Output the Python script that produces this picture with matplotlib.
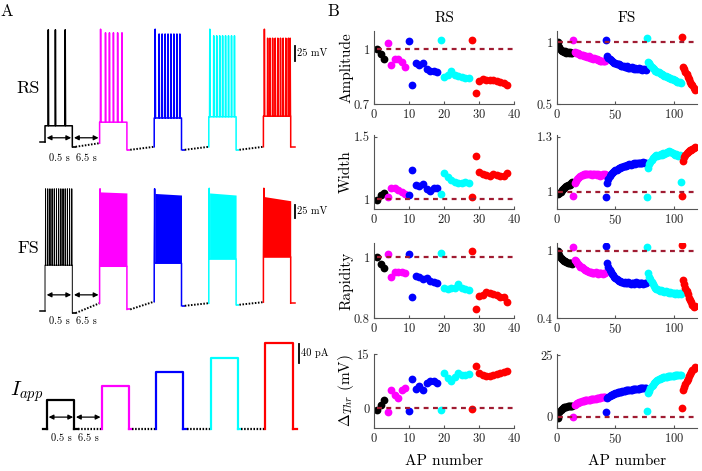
import numpy as np
import matplotlib.pyplot as plt

plt.rcParams['font.family'] = ['cmr10', 'DejaVu Serif']
plt.rcParams['mathtext.fontset'] = 'cm'
plt.rcParams['axes.formatter.use_mathtext'] = True

W, H = 702, 471
fig = plt.figure(figsize=(W / 100, H / 100), dpi=100)


def px_axes(l, t, r, b):
    # axes placed by pixel box (left, top, right, bottom)
    return fig.add_axes([l / W, 1 - b / H, (r - l) / W, (b - t) / H])


colors = ['k', '#ff00ff', '#0000ff', '#00ffff', '#ff0000']
ref_color = '#a01c32'

# ---------------- panel A data ----------------
step_len = 0.5            # 0.5 s step, the 6.5 s gap is drawn compressed
iapp_pA = [60, 90, 120, 150, 180]

rs_pre = [-70, -72, -78, -78, -78]
rs_post = [-78, -83, -83, -83, -78]
rs_trough = [-43, -37, -30, -28, -27]
rs_first_peak = [117, 118, 118, 118, 118]
rs_peak = [117, 112, 110, 107, 103]
rs_spikes = [
    [0.06, 0.19, 0.37],
    [0.018, 0.108, 0.18, 0.253, 0.33, 0.41],
    [0.018, 0.09, 0.145, 0.2, 0.253, 0.307, 0.361, 0.416, 0.47],
    [0.018, 0.09, 0.145, 0.2, 0.253, 0.307, 0.361, 0.416, 0.47],
    [0.018, 0.078, 0.12, 0.169, 0.217, 0.265, 0.313, 0.361, 0.41, 0.458, 0.49],
]

fs_pre = [-70, -55, -52, -55, -53]
fs_post = [-74, -67, -60, -58, -55]
fs_trough = [18, 16, 22, 30, 34]
fs_first_peak = [165, 165, 165, 166, 166]
fs_top_start = [165, 159, 156, 157, 150]
fs_top_end = [165, 157, 153, 153, 142]
fs_black_spikes = [0.01, 0.05, 0.09, 0.13, 0.17, 0.21, 0.25, 0.29, 0.33,
                   0.37, 0.41, 0.45, 0.49]

# ---------------- panel B data ----------------
rs_counts = [3, 6, 9, 9, 11]
fs_counts = [13, 28, 35, 30, 12]

rs_amplitude = [
    [1.0, 0.975, 0.945],
    [1.034, 0.913, 0.944, 0.949, 0.93, 0.903],
    [1.044, 0.803, 0.922, 0.915, 0.922, 0.894, 0.88, 0.88, 0.877],
    [1.053, 0.849, 0.86, 0.88, 0.86, 0.851, 0.849, 0.845, 0.84],
    [1.049, 0.761, 0.825, 0.836, 0.834, 0.834, 0.83, 0.825, 0.82, 0.815, 0.803],
]
rs_width = [
    [0.99, 1.03, 1.05],
    [1.02, 1.09, 1.086, 1.07, 1.06, 1.04],
    [1.03, 1.234, 1.113, 1.108, 1.118, 1.078, 1.067, 1.086, 1.09],
    [1.04, 1.207, 1.175, 1.153, 1.14, 1.132, 1.132, 1.134, 1.132],
    [1.02, 1.347, 1.22, 1.2, 1.19, 1.185, 1.2, 1.19, 1.185, 1.185, 1.207],
]
rs_rapidity = [
    [1.0, 0.977, 0.963],
    [1.01, 0.933, 0.952, 0.95, 0.95, 0.948],
    [1.01, 0.868, 0.939, 0.933, 0.928, 0.931, 0.922, 0.919, 0.915],
    [1.012, 0.897, 0.895, 0.897, 0.9, 0.911, 0.897, 0.895, 0.892],
    [1.02, 0.83, 0.873, 0.875, 0.884, 0.882, 0.879, 0.875, 0.868, 0.87, 0.854],
]
rs_dthr = [
    [-0.5, 0.9, 2.3],
    [-1.2, 5.1, 3.7, 2.8, 5.1, 5.5],
    [-0.7, 8.0, 5.2, 6.0, 5.1, 7.1, 7.4, 7.4, 6.9],
    [-0.5, 9.7, 8.3, 7.4, 8.7, 9.7, 9.2, 9.2, 9.5],
    [-0.2, 11.7, 9.7, 9.2, 8.9, 8.9, 9.2, 9.5, 9.7, 10.1, 10.4],
]

fs_amplitude = [
    [1.0, 0.96, 0.94, 0.93, 0.925, 0.92, 0.925, 0.915, 0.92, 0.915, 0.92, 0.91, 0.915],
    [1.02, 0.92, 0.915, 0.91, 0.915, 0.905, 0.9, 0.9, 0.895, 0.89, 0.89, 0.885, 0.88,
     0.885, 0.875, 0.87, 0.87, 0.865, 0.87, 0.86, 0.86, 0.855, 0.855, 0.85, 0.85,
     0.845, 0.85, 0.845],
    [1.02, 0.885, 0.87, 0.86, 0.855, 0.845, 0.84, 0.835, 0.83, 0.825, 0.82, 0.82,
     0.815, 0.81, 0.81, 0.805, 0.8, 0.8, 0.805, 0.795, 0.79, 0.79, 0.8, 0.795, 0.785,
     0.79, 0.785, 0.78, 0.79, 0.785, 0.78, 0.775, 0.785, 0.78, 0.775],
    [1.03, 0.84, 0.83, 0.815, 0.8, 0.79, 0.78, 0.77, 0.765, 0.76, 0.755, 0.75, 0.745,
     0.74, 0.735, 0.73, 0.725, 0.72, 0.715, 0.71, 0.71, 0.705, 0.7, 0.695, 0.69,
     0.685, 0.68, 0.68, 0.675, 0.67],
    [1.04, 0.8, 0.78, 0.76, 0.74, 0.72, 0.7, 0.68, 0.665, 0.65, 0.63, 0.61],
]
fs_width = [
    [0.99, 0.995, 1.0, 1.01, 1.015, 1.02, 1.025, 1.03, 1.035, 1.04, 1.04, 1.05, 1.055],
    [0.98, 1.05, 1.06, 1.07, 1.075, 1.08, 1.085, 1.09, 1.09, 1.095, 1.095, 1.1, 1.095,
     1.1, 1.1, 1.095, 1.09, 1.095, 1.1, 1.095, 1.09, 1.095, 1.09, 1.085, 1.09, 1.095,
     1.09, 1.095],
    [0.975, 1.05, 1.07, 1.085, 1.1, 1.105, 1.11, 1.115, 1.12, 1.12, 1.125, 1.13, 1.13,
     1.135, 1.135, 1.14, 1.14, 1.14, 1.145, 1.145, 1.15, 1.145, 1.15, 1.15, 1.155,
     1.15, 1.155, 1.16, 1.155, 1.16, 1.155, 1.16, 1.165, 1.16, 1.155],
    [0.975, 1.13, 1.15, 1.165, 1.175, 1.185, 1.19, 1.195, 1.2, 1.195, 1.2, 1.2, 1.205,
     1.2, 1.21, 1.205, 1.21, 1.215, 1.22, 1.225, 1.215, 1.22, 1.21, 1.205, 1.2, 1.205,
     1.2, 1.195, 1.2, 1.055],
    [0.98, 1.17, 1.19, 1.2, 1.21, 1.22, 1.225, 1.23, 1.23, 1.235, 1.24, 1.245],
]
fs_rapidity = [
    [1.0, 0.96, 0.94, 0.93, 0.92, 0.91, 0.905, 0.9, 0.895, 0.89, 0.895, 0.89, 0.885],
    [1.03, 0.92, 0.905, 0.89, 0.88, 0.87, 0.86, 0.855, 0.845, 0.84, 0.83, 0.825, 0.82,
     0.815, 0.81, 0.81, 0.805, 0.8, 0.8, 0.81, 0.8, 0.795, 0.8, 0.805, 0.8, 0.795,
     0.8, 0.805],
    [1.04, 0.89, 0.86, 0.83, 0.81, 0.795, 0.78, 0.77, 0.76, 0.75, 0.74, 0.735, 0.73,
     0.725, 0.72, 0.715, 0.72, 0.715, 0.71, 0.72, 0.71, 0.705, 0.715, 0.71, 0.705,
     0.71, 0.72, 0.715, 0.705, 0.71, 0.715, 0.71, 0.705, 0.71, 0.715],
    [1.03, 0.8, 0.77, 0.745, 0.72, 0.7, 0.685, 0.67, 0.66, 0.655, 0.65, 0.645, 0.65,
     0.64, 0.645, 0.635, 0.64, 0.63, 0.635, 0.625, 0.63, 0.62, 0.625, 0.62, 0.615,
     0.625, 0.62, 0.615, 0.62, 0.615],
    [1.05, 0.74, 0.7, 0.67, 0.64, 0.61, 0.58, 0.56, 0.54, 0.52, 0.5, 0.51],
]
fs_dthr = [
    [-0.4, 2.0, 2.8, 3.2, 3.5, 3.8, 4.0, 4.0, 4.2, 4.2, 4.3, 4.5, 4.4],
    [0.0, 4.8, 5.2, 5.5, 5.8, 6.0, 6.2, 6.3, 6.5, 6.6, 6.7, 6.8, 6.9, 7.0, 7.0, 7.1,
     7.2, 7.3, 7.3, 7.4, 7.5, 7.6, 7.7, 7.8, 7.9, 8.0, 8.1, 8.2],
    [1.9, 7.5, 8.0, 8.4, 8.7, 9.0, 9.2, 9.4, 9.6, 9.8, 9.9, 10.0, 10.1, 10.2, 10.4,
     10.5, 10.6, 10.7, 10.8, 10.8, 10.9, 11.0, 11.0, 11.1, 11.2, 11.2, 11.3, 11.4,
     11.4, 11.5, 11.5, 11.6, 11.6, 11.7, 11.6],
    [2.5, 9.5, 10.5, 11.5, 12.3, 13.0, 13.6, 14.1, 14.6, 15.0, 15.3, 15.5, 15.7, 15.9,
     16.0, 16.1, 16.2, 16.3, 16.4, 16.5, 16.5, 16.6, 16.7, 16.7, 16.8, 16.9, 16.9,
     17.0, 17.0, 17.1],
    [3.6, 11.0, 12.2, 13.4, 14.5, 15.5, 16.4, 17.2, 18.0, 18.8, 19.5, 20.0],
]

metric_labels = ['Amplitude', 'Width', 'Rapidity', r'$\Delta_{Thr}\ \mathrm{(mV)}$']
ref_level = [1, 1, 1, 0]
rs_ylim = [(0.7, 1.1), (0.92, 1.515), (0.8, 1.046), (-5.5, 15)]
fs_ylim = [(0.5, 1.09), (0.907, 1.31), (0.4, 1.07), (-4.5, 25.4)]
rs_yticks = [[0.7, 1], [1, 1.5], [0.8, 1], [0, 15]]
fs_yticks = [[0.5, 1], [1, 1.3], [0.4, 1], [0, 25]]


# ---------------- panel A: traces ----------------
def gap(ax, x0, x1, y0, y1, c):
    ax.plot([x0, x0 + 0.06], [y0, y0], color=c, lw=1.2, solid_capstyle='butt')
    ax.plot([x0 + 0.06, x1], [y0, y1], color='k', lw=1.4, ls=(0, (0.8, 0.8)))


def arrows(ax, y_arrow, y_text):
    for a, b, lab in [(0.03, 0.48, '0.5 s'), (0.53, 0.98, '6.5 s')]:
        ax.annotate('', xy=(b, y_arrow), xytext=(a, y_arrow),
                    arrowprops=dict(arrowstyle='<|-|>', color='k', lw=0.9,
                                    mutation_scale=7, shrinkA=0, shrinkB=0))
        ax.text((a + b) / 2, y_text, lab, ha='center', va='center', fontsize=7.5)


def scalebar(ax, x, y0, y1, lab):
    ax.plot([x, x], [y0, y1], color='k', lw=1.3)
    ax.text(x + 0.04, (y0 + y1) / 2, lab, ha='left', va='center', fontsize=7.5)


# RS voltage
ax = px_axes(30, 20, 340, 170)
ax.set_xlim(-0.275, 5.403)
ax.set_ylim(-116.7, 133.3)
ax.axis('off')
ax.plot([-0.09, 0], [rs_pre[0], rs_pre[0]], color='k', lw=1.1)
for i in range(5):
    o = float(i)
    xs, ys = [o, o], [rs_pre[i], rs_trough[i]]
    for j, t in enumerate(rs_spikes[i]):
        p = rs_first_peak[i] if j == 0 else rs_peak[i]
        xs += [o + t - 0.004, o + t, o + t + 0.006]
        ys += [rs_trough[i], p, rs_trough[i]]
    xs += [o + step_len, o + step_len]
    ys += [rs_trough[i], rs_post[i]]
    ax.plot(xs, ys, color=colors[i], lw=1.1)
    if i < 4:
        gap(ax, o + step_len, o + 1, rs_post[i], rs_pre[i + 1], colors[i])
    else:
        ax.plot([o + step_len, o + step_len + 0.08], [rs_post[i]] * 2, color=colors[i], lw=1.1)
arrows(ax, -63, -96.7)
scalebar(ax, 4.58, 65, 90, '25 mV')

# FS voltage
ax = px_axes(30, 175, 340, 335)
ax.set_xlim(-0.275, 5.403)
ax.set_ylim(-116.2, 191.5)
ax.axis('off')
ax.plot([-0.09, 0], [fs_pre[0], fs_pre[0]], color='k', lw=1.1)
for i in range(5):
    o = float(i)
    if i == 0:
        xs, ys = [o, o], [fs_pre[0], fs_trough[0]]
        for t in fs_black_spikes:
            xs += [o + t - 0.003, o + t, o + t + 0.004]
            ys += [fs_trough[0], fs_first_peak[0], fs_trough[0]]
        lw = 0.7
    else:
        xs = [o, o, o + 0.008, o + 0.014]
        ys = [fs_pre[i], fs_trough[i], fs_first_peak[i], fs_trough[i]]
        ax.fill_between([o + 0.014, o + step_len], [fs_trough[i]] * 2,
                        [fs_top_start[i], fs_top_end[i]], color=colors[i], lw=0)
        lw = 1.1
    xs += [o + step_len, o + step_len]
    ys += [fs_trough[i], fs_post[i]]
    ax.plot(xs, ys, color=colors[i], lw=lw)
    if i < 4:
        gap(ax, o + step_len, o + 1, fs_post[i], fs_pre[i + 1], colors[i])
    else:
        ax.plot([o + step_len, o + step_len + 0.08], [fs_post[i]] * 2, color=colors[i], lw=1.1)
arrows(ax, -39, -89)
scalebar(ax, 4.58, 109, 134, '25 mV')

# applied current
ax = px_axes(30, 330, 340, 460)
ax.set_xlim(-0.311, 5.366)
ax.set_ylim(-65.3, 208.4)
ax.axis('off')
ax.plot([-0.08, 0], [0, 0], color='k', lw=1.6)
for i, amp in enumerate(iapp_pA):
    o = float(i)
    ax.plot([o, o, o + step_len, o + step_len], [0, amp, amp, 0], color=colors[i], lw=1.6)
    if i < 4:
        ax.plot([o + step_len, o + step_len + 0.06], [0, 0], color=colors[i], lw=1.6)
        ax.plot([o + step_len + 0.06, o + 1], [0, 0], color='k', lw=1.6, ls=(0, (0.7, 0.7)))
    else:
        ax.plot([o + step_len, o + step_len + 0.08], [0, 0], color=colors[i], lw=1.6)
arrows(ax, 25, -19)
scalebar(ax, 4.62, 139, 179, '40 pA')

fig.text(28 / W, 1 - 88 / H, 'RS', ha='center', va='center', fontsize=13)
fig.text(28 / W, 1 - 248 / H, 'FS', ha='center', va='center', fontsize=13)
fig.text(27 / W, 1 - 392 / H, r'$I_{app}$', ha='center', va='center', fontsize=15)
fig.text(7 / W, 1 - 11 / H, 'A', ha='center', va='center', fontsize=12)
fig.text(333 / W, 1 - 11 / H, 'B', ha='center', va='center', fontsize=12)

# ---------------- panel B: spike features ----------------
rows_px = [(31, 104), (135, 209), (243, 318), (354, 428)]
cols = [
    (374, 514, rs_counts, [rs_amplitude, rs_width, rs_rapidity, rs_dthr],
     rs_ylim, rs_yticks, 40, [0, 10, 20, 30, 40], 'RS'),
    (557, 697, fs_counts, [fs_amplitude, fs_width, fs_rapidity, fs_dthr],
     fs_ylim, fs_yticks, 120, [0, 50, 100], 'FS'),
]

for left, right, counts, metrics, ylims, yticks, xmax, xticks, title in cols:
    starts = np.cumsum([0] + counts[:-1]) + 1
    for r, (top, bottom) in enumerate(rows_px):
        ax = px_axes(left, top, right, bottom)
        for k in range(5):
            vals = metrics[r][k]
            x = np.arange(starts[k], starts[k] + len(vals))
            ax.plot(x, vals, 'o', color=colors[k], ms=5.6, mew=0, zorder=2)
        ax.plot([1, xmax], [ref_level[r]] * 2, color=ref_color, lw=1.6,
                ls=(0, (2.2, 2.0)), zorder=3)
        ax.set_xlim(0, xmax)
        ax.set_ylim(*ylims[r])
        ax.set_xticks(xticks)
        ax.set_yticks(yticks[r])
        ax.set_yticklabels([f'{v:g}' for v in yticks[r]])
        for s in ['top', 'right']:
            ax.spines[s].set_visible(False)
        for s in ['left', 'bottom']:
            ax.spines[s].set_color('#555555')
            ax.spines[s].set_linewidth(0.8)
        ax.tick_params(direction='in', length=2, labelsize=9, pad=3,
                       color='#555555', labelcolor='#222222')
    cx = (left + right) / 2
    fig.text(cx / W, 1 - 18 / H, title, ha='center', va='center', fontsize=11)
    fig.text(cx / W, 1 - 461 / H, 'AP number', ha='center', va='center', fontsize=11)

for r, (top, bottom) in enumerate(rows_px):
    fig.text(346 / W, 1 - (top + bottom) / 2 / H, metric_labels[r], rotation=90,
             ha='center', va='center', fontsize=11)

fig.savefig('out.png', dpi=100)
